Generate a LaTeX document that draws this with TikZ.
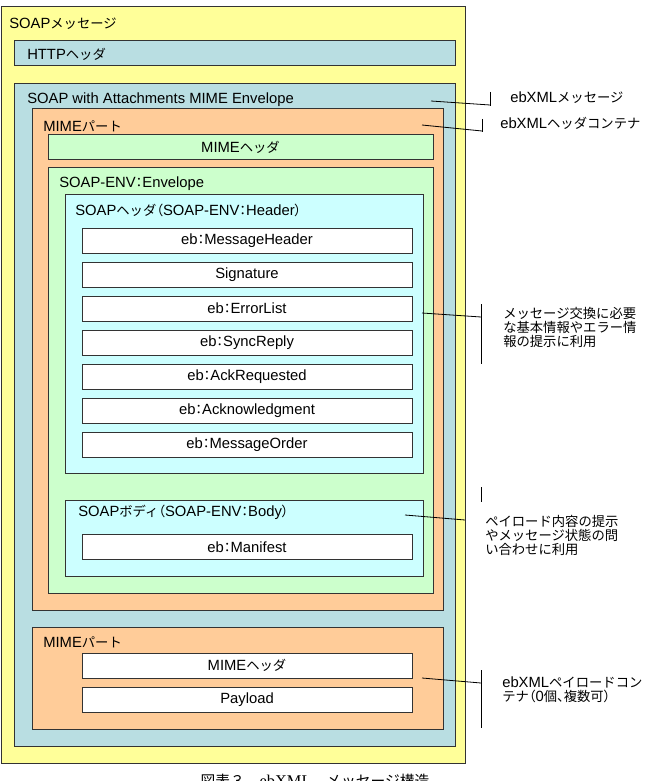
\documentclass[tikz,border=0pt]{standalone}
\usepackage{fontspec}
\setmainfont{Liberation Sans}
\newfontfamily\jp[Scale=0.9]{Noto Sans CJK JP}
\newfontfamily\jpp[Scale=0.9,RawFeature=+palt]{Noto Sans CJK JP}
\newcommand\ja[1]{{\jp #1}}
\newcommand\jq[1]{{\jpp #1}}
\newcommand\cln{{\jpp ：}}
\definecolor{cyellow}{HTML}{FFFF99}
\definecolor{cblue}{HTML}{B9DEE2}
\definecolor{corange}{HTML}{FFCC99}
\definecolor{cgreen}{HTML}{CCFFCC}
\definecolor{ccyan}{HTML}{CCFFFF}
\definecolor{cline}{HTML}{333333}
\tikzset{
  frame/.style={draw=cline, line width=0.75pt},
  item/.style={frame, fill=white, minimum width=247.5pt, minimum height=18.75pt, inner sep=0pt},
  title/.style={anchor=west, inner sep=0pt},
  note/.style={anchor=west, inner sep=0pt, align=left, font=\fontsize{11.1}{10.5}\selectfont},
  lead/.style={draw=black, line width=0.6pt}
}
\begin{document}
\begin{tikzpicture}[x=0.75pt, y=-0.75pt, font=\fontsize{11.1}{13}\selectfont]
\useasboundingbox (0,0) rectangle (647,781);
\fill[white] (0,0) rectangle (647,781);

% containers
\draw[frame, fill=cyellow] (1,7) rectangle (465,763);
\draw[frame, fill=cblue] (14,41) rectangle (455,66);
\draw[frame, fill=cblue] (14,84) rectangle (455,746);
\draw[frame, fill=corange] (32,109) rectangle (443,610);
\node[frame, fill=cgreen, minimum width=288.75pt, minimum height=18.75pt, inner sep=0pt] (mimehead) at (240.5,147.5) {MIME\ja{ヘッダ}};
\draw[frame, fill=cgreen] (48,168) rectangle (433,593);
\draw[frame, fill=ccyan] (65,194) rectangle (423,473);
\draw[frame, fill=ccyan] (65,500) rectangle (423,576);
\draw[frame, fill=corange] (32,627) rectangle (443,729);

% titles
\node[title] (tsoap) at (9,24) {SOAP\ja{メッセージ}};
\node[title] (thttp) at (27,54) {HTTP\ja{ヘッダ}};
\node[title] (tswa) at (27,100) {SOAP with Attachments MIME Envelope};
\node[title] (tmime) at (43,126) {MIME\ja{パート}};
\node[title] (tenv) at (59,184) {SOAP-ENV\cln Envelope};
\node[title] (thead) at (75,210) {SOAP\ja{ヘッダ}\jq{（}SOAP-ENV\cln Header\jq{）}};
\node[title] (tbody) at (78,512) {SOAP\ja{ボディ}\jq{（}SOAP-ENV\cln Body\jq{）}};
\node[title] (tmime2) at (43,642) {MIME\ja{パート}};

% header entries
\foreach \txt [count=\i from 0] in {eb\cln MessageHeader, Signature, eb\cln ErrorList, eb\cln SyncReply, eb\cln AckRequested, eb\cln Acknowledgment, eb\cln MessageOrder}{
\node[item] (hd\i) at (247,240.5+34*\i) {\txt};
}
\node[item] (manifest) at (247,547) {eb\cln Manifest};
\node[item] (mimehead2) at (247,665.5) {MIME\ja{ヘッダ}};
\node[item] (payload) at (247,699.5) {Payload};

% notes
\node[note] (n1) at (510,98) {ebXML\ja{メッセージ}};
\node[note] (n2) at (500,123) {ebXML\ja{ヘッダコンテナ}};
\node[note] (n3) at (503,327) {\ja{メッセージ交換に必要}\\\ja{な基本情報やエラー情}\\\ja{報の提示に利用}};
\node[note] (n4) at (485,535) {\ja{ペイロード内容の提示}\\\ja{やメッセージ状態の問}\\\ja{い合わせに利用}};
\node[note] (n5) at (502,690) {ebXML\ja{ペイロードコン}\\\ja{テナ}\jq{（}0\ja{個}\jq{、}\ja{複数可}\jq{）}};

% leaders
\coordinate (s1) at (431,101); \coordinate (e1) at (490,105);
\coordinate (s2) at (422,125); \coordinate (e2) at (482,131);
\coordinate (s3) at (422,313); \coordinate (e3) at (481,317);
\coordinate (s4) at (405,515); \coordinate (e4) at (465,520);
\coordinate (s5) at (422,678); \coordinate (e5) at (481,683);
\draw[lead] (s1) -- (e1);
\draw[lead] (490,92) -- (490,106);
\draw[lead] (s2) -- (e2);
\draw[lead] (482,119) -- (482,132);
\draw[lead] (s3) -- (e3);
\draw[lead] (481,304) -- (481,364);
\draw[lead] (s4) -- (e4);
\draw[lead] (481,487) -- (481,502);
\draw[lead] (s5) -- (e5);
\draw[lead] (481,670) -- (481,728);

% caption
\node (caption) at (315,781) {\fontsize{12.3}{14}\selectfont\ja{図表３　}{\fontspec{Liberation Serif}ebXML}\ja{　メッセージ構造}};
\end{tikzpicture}
\end{document}
